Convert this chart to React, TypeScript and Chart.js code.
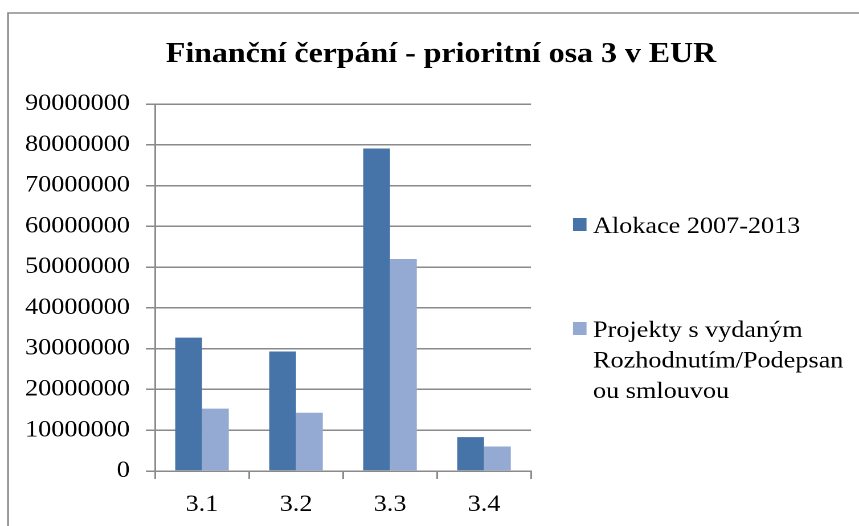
import React, { useEffect, useRef } from "react";
import { Chart, registerables } from "chart.js";

Chart.register(...registerables);

const TITLE = "Finanční čerpání - prioritní osa 3 v EUR";
const CATEGORIES = ["3.1", "3.2", "3.3", "3.4"];
const SERIES_NAMES = ["Alokace 2007-2013", "Projekty s vydaným Rozhodnutím/Podepsanou smlouvou"];
const LEGEND_LINES = [["Alokace 2007-2013"], ["Projekty s vydaným", "Rozhodnutím/Podepsan", "ou smlouvou"]];
const ALOKACE = [32700000, 29300000, 79100000, 8300000];
const PROJEKTY = [15300000, 14300000, 52000000, 6000000];
const Y_MIN = 0;
const Y_MAX = 90000000;
const Y_STEP = 10000000;
const COLORS = ["#4674A8", "#95AAD2"];

const SCREEN_W = 859;
const H = 526;
const STRETCH = 1.14;
const W = Math.round(SCREEN_W / STRETCH);
const K = SCREEN_W / W;
const sx = (x: number) => x / K;

const FONT = "'Liberation Serif', 'Times New Roman', serif";
const GRID = "#8a8a8a";

const decor = {
  id: "decor",
  beforeDraw(chart: any) {
    const ctx = chart.ctx;
    ctx.save();
    ctx.fillStyle = "#ffffff";
    ctx.fillRect(0, 0, chart.width, chart.height);
    ctx.strokeStyle = "#8c8c8c";
    ctx.lineWidth = 1.6;
    ctx.beginPath();
    ctx.moveTo(sx(8), H + 2);
    ctx.lineTo(sx(8), 13);
    ctx.lineTo(chart.width + 2, 13);
    ctx.stroke();
    ctx.restore();
  },
  afterDraw(chart: any) {
    const ctx = chart.ctx;
    ctx.save();
    ctx.fillStyle = "#000000";
    ctx.font = `bold 28px ${FONT}`;
    ctx.textAlign = "center";
    ctx.textBaseline = "alphabetic";
    ctx.fillText(TITLE, sx(441), 62);

    const legendTops = [218, 322];
    const baselines = [233, 337];
    const lineGap = 30.5;
    ctx.font = `23px ${FONT}`;
    ctx.textAlign = "left";
    LEGEND_LINES.forEach((lines, i) => {
      ctx.fillStyle = COLORS[i];
      ctx.fillRect(sx(573), legendTops[i], sx(13.5), 13);
      ctx.fillStyle = "#000000";
      lines.forEach((ln, j) => {
        ctx.fillText(ln, sx(593), baselines[i] + j * lineGap);
      });
    });
    ctx.restore();
  },
};

export default function App() {
  const ref = useRef<HTMLCanvasElement | null>(null);
  useEffect(() => {
    if (!ref.current) return;
    const chart = new Chart(ref.current, {
      type: "bar",
      data: {
        labels: CATEGORIES,
        datasets: [
          { label: SERIES_NAMES[0], data: ALOKACE, backgroundColor: COLORS[0], borderWidth: 0 },
          { label: SERIES_NAMES[1], data: PROJEKTY, backgroundColor: COLORS[1], borderWidth: 0 },
        ],
      },
      options: {
        responsive: false,
        devicePixelRatio: 2,
        animation: false,
        layout: { padding: { left: 0, right: W - sx(531), top: 104, bottom: 0 } },
        datasets: { bar: { categoryPercentage: 0.57, barPercentage: 1.0 } },
        plugins: {
          legend: { display: false },
          title: { display: false },
          tooltip: { enabled: false },
        },
        scales: {
          x: {
            offset: true,
            afterFit: (scale: any) => {
              scale.height = H - 471;
            },
            grid: { display: true, drawOnChartArea: false, drawTicks: true, tickLength: 8, color: GRID, lineWidth: 1.5, offset: true },
            border: { display: true, color: GRID, width: 1.5 },
            ticks: { color: "#000000", font: { family: FONT, size: 23 }, padding: 12, maxRotation: 0 },
          },
          y: {
            min: Y_MIN,
            max: Y_MAX,
            afterFit: (scale: any) => {
              scale.width = sx(155);
            },
            grid: { color: GRID, lineWidth: 1.5, drawTicks: true, tickLength: 8 },
            border: { display: true, color: GRID, width: 1.5 },
            ticks: {
              stepSize: Y_STEP,
              color: "#000000",
              font: { family: FONT, size: 23 },
              padding: 14,
              callback: (v: any) => String(v),
            },
          },
        },
      },
      plugins: [decor],
    });
    return () => chart.destroy();
  }, []);

  return (
    <div style={{ position: "fixed", left: 0, top: 0, width: SCREEN_W, height: H, background: "#fff", overflow: "hidden" }}>
      <canvas ref={ref} width={W} height={H} style={{ width: `${SCREEN_W}px`, height: `${H}px`, display: "block" }} />
    </div>
  );
}
